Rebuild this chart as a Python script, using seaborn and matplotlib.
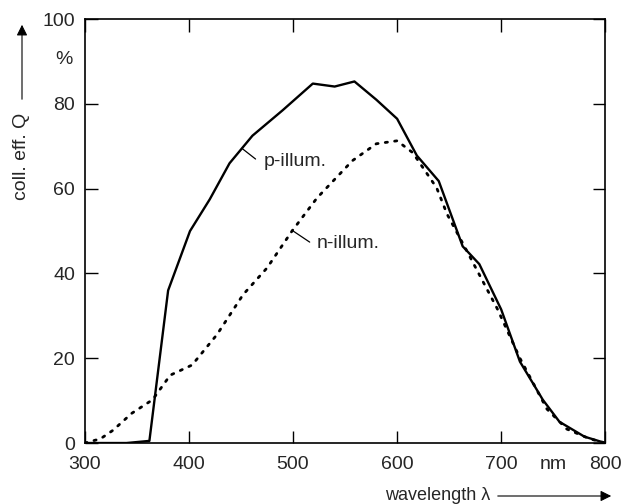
import numpy as np
import pandas as pd
import seaborn as sns
import matplotlib.pyplot as plt
from matplotlib.patches import FancyArrowPatch

# Collection efficiency
wl_p = [300, 340, 362, 380, 401, 420, 439, 461, 490, 519, 540, 559, 580, 600, 619, 640, 663, 679, 700, 718, 740, 756, 780, 800]
q_p = [0, 0, 0.5, 36, 50, 57.5, 66, 72.5, 78.5, 84.8, 84.1, 85.3, 81, 76.5, 67.8, 61.8, 46.4, 42.2, 31.5, 19.2, 10.2, 5, 1.5, 0]

wl_n = [300, 315, 327, 345, 365, 382, 403, 427, 452, 475, 499, 523, 557, 580, 600, 615, 638, 648, 667, 696, 718, 744, 763, 785, 800]
q_n = [0, 1, 3, 7, 10.2, 16, 18.4, 25.6, 35, 41.3, 50, 57.8, 66.6, 70.6, 71.3, 68.5, 60.2, 54, 45.3, 31.8, 20, 8, 3.3, 1, 0]

x_ticks = [300, 400, 500, 600, 700, 800]
y_ticks = [0, 20, 40, 60, 80, 100]

sns.set_style("ticks")
plt.rcParams['font.family'] = ['Liberation Sans', 'DejaVu Sans']

fig = plt.figure(figsize=(6.24, 5.04), dpi=100)
ax = fig.add_axes([0.136, 0.121, 0.834, 0.841])

sns.lineplot(x=wl_p, y=q_p, ax=ax, color='black', lw=1.7)
sns.lineplot(x=wl_n, y=q_n, ax=ax, color='black', lw=2.0, linestyle=(0, (0.8, 2.6)),
             dash_capstyle='round')

ax.set_xlim(300, 800)
ax.set_ylim(0, 100)
ax.set_xticks(x_ticks)
ax.set_yticks(y_ticks)
ax.set_xticklabels([str(t) for t in x_ticks])
ax.set_yticklabels([str(t) for t in y_ticks])
ax.tick_params(direction='in', length=9, width=1, labelsize=14, color='black',
               top=True, right=True)
ax.tick_params(axis='x', pad=9)
ax.tick_params(axis='y', pad=7)
for s in ax.spines.values():
    s.set_color('black')
    s.set_linewidth(1.2)

# unit labels
ax.text(-0.023, 90.5, '%', transform=ax.get_yaxis_transform(), ha='right', va='center', fontsize=14)
ax.text(750, -5, 'nm', ha='center', va='center', fontsize=14, clip_on=False)

# curve labels with leaders
ax.plot([451, 464], [69.5, 67.0], color='black', lw=0.9)
ax.text(472, 66.3, 'p-illum.', fontsize=14, va='center')
ax.plot([499, 516], [50.2, 47.4], color='black', lw=0.9)
ax.text(523, 47, 'n-illum.', fontsize=14, va='center')

# axis titles with arrows
fig.text(22 / 624, 1 - 156 / 504, 'coll. eff. Q', rotation=90, ha='center', va='center', fontsize=14)
fig.add_artist(FancyArrowPatch(
    (22 / 624, 1 - 102 / 504), (22 / 624, 1 - 22 / 504), transform=fig.transFigure,
    arrowstyle='-|>', mutation_scale=16, color='black', lw=0.8))
fig.text(438 / 624, 1 - 496 / 504, 'wavelength λ', ha='center', va='center', fontsize=13)
fig.add_artist(FancyArrowPatch(
    (495 / 624, 1 - 496 / 504), (614 / 624, 1 - 496 / 504), transform=fig.transFigure,
    arrowstyle='-|>', mutation_scale=16, color='black', lw=0.8))

fig.savefig('out.png', dpi=100)
